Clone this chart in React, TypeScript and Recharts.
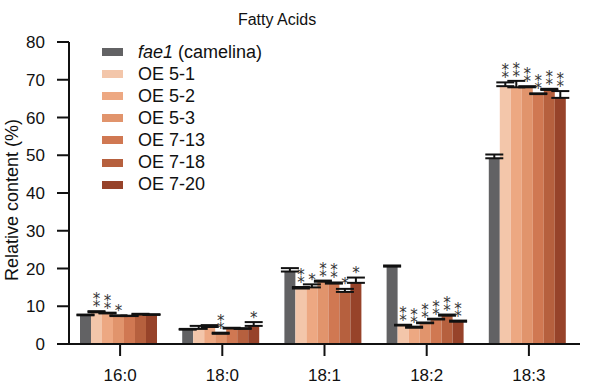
import React from 'react';
import { BarChart, Bar, XAxis, YAxis, ErrorBar, LabelList } from 'recharts';

if (typeof document !== 'undefined') document.body.style.margin = '0';

const FONT = '"Liberation Sans", Arial, sans-serif';
const STAR_FONT = '"DejaVu Sans", sans-serif';

const categories = ['16:0', '18:0', '18:1', '18:2', '18:3'];
const seriesNames = ['fae1 (camelina)', 'OE 5-1', 'OE 5-2', 'OE 5-3', 'OE 7-13', 'OE 7-18', 'OE 7-20'];
const seriesColors = ['#626264', '#f3c6aa', '#eda882', '#e1946c', '#d07852', '#b6603e', '#97432a'];

const fae1 = [7.6, 3.8, 19.2, 20.5, 49.2];
const oe51 = [8.4, 4.0, 14.7, 4.9, 68.3];
const oe52 = [8.1, 4.5, 15.0, 4.3, 68.0];
const oe53 = [7.4, 2.7, 16.5, 5.5, 68.0];
const oe713 = [7.4, 4.1, 16.0, 6.5, 66.2];
const oe718 = [7.8, 4.0, 13.8, 7.5, 67.3];
const oe720 = [7.7, 4.8, 16.2, 5.9, 65.2];

const fae1Err = [0.2, 0.2, 0.9, 0.3, 1.0];
const oe51Err = [0.3, 0.8, 0.4, 0.2, 1.0];
const oe52Err = [0.2, 0.5, 0.8, 0.3, 1.7];
const oe53Err = [0.2, 0.3, 0.3, 0.2, 0.3];
const oe713Err = [0.1, 0.2, 0.3, 0.2, 0.2];
const oe718Err = [0.2, 0.2, 0.8, 0.3, 0.3];
const oe720Err = [0.2, 1.0, 1.4, 0.3, 1.8];

// significance markers
const fae1Sig = ['', '', '', '', ''];
const oe51Sig = ['**', '', '**', '**', '**'];
const oe52Sig = ['**', '', '*', '**', '**'];
const oe53Sig = ['*', '**', '**', '**', '**'];
const oe713Sig = ['', '', '**', '**', '**'];
const oe718Sig = ['', '', '*', '**', '**'];
const oe720Sig = ['', '*', '*', '**', '**'];

const values = [fae1, oe51, oe52, oe53, oe713, oe718, oe720];
const errors = [fae1Err, oe51Err, oe52Err, oe53Err, oe713Err, oe718Err, oe720Err];
const sigs = [fae1Sig, oe51Sig, oe52Sig, oe53Sig, oe713Sig, oe718Sig, oe720Sig];

const data = categories.map((cat, i) => {
  const row: any = { cat };
  values.forEach((v, s) => {
    row['s' + s] = v[i];
    row['e' + s] = [0, errors[s][i]];
  });
  return row;
});

const makeStarLabel = (s: number) => (props: any) => {
  const { x, y, width, height, value, index } = props;
  const mark = sigs[s][index];
  if (!mark) return null;
  const err = errors[s][index];
  const pxPerUnit = Number(height) / Number(value);
  const capY = Number(y) - err * pxPerUnit;
  const cx = Number(x) + Number(width) / 2;
  if (mark === '**') {
    return (
      <text x={cx} y={capY - 4} textAnchor="middle" fontSize={15} fill="#333" stroke="none" fontFamily={STAR_FONT}>
        {'\u2051'}
      </text>
    );
  }
  return (
    <text x={cx} y={capY + 0.5} textAnchor="middle" fontSize={15} fill="#333" stroke="none" fontFamily={STAR_FONT}>
      *
    </text>
  );
};

const YLabel = () => (
  <text
    x={12}
    y={200}
    transform="rotate(-90 12 200)"
    textAnchor="middle"
    dominantBaseline="central"
    fontSize={18}
    fill="#111"
    fontFamily={FONT}
  >
    Relative content (%)
  </text>
);

export default function App() {
  return (
    <div style={{ position: 'relative', width: 600, height: 392, background: '#fff', fontFamily: FONT }}>
      <BarChart
        width={600}
        height={392}
        data={data}
        margin={{ top: 42, right: 20, bottom: 0, left: 0 }}
        barCategoryGap={11}
        barGap={0}
      >
        <XAxis
          dataKey="cat"
          height={48}
          tickSize={12}
          tickMargin={13}
          axisLine={{ stroke: '#111', strokeWidth: 2 }}
          tickLine={{ stroke: '#111', strokeWidth: 2 }}
          tick={{ fontSize: 17, fill: '#111', fontFamily: FONT }}
        />
        <YAxis
          width={69}
          domain={[0, 80]}
          ticks={[0, 10, 20, 30, 40, 50, 60, 70, 80]}
          tickSize={12}
          tickMargin={12}
          axisLine={{ stroke: '#111', strokeWidth: 2 }}
          tickLine={{ stroke: '#111', strokeWidth: 2 }}
          tick={{ fontSize: 17, fill: '#111', fontFamily: FONT }}
          label={<YLabel />}
        />
        {seriesNames.map((name, s) => (
          <Bar key={name} dataKey={'s' + s} name={name} fill={seriesColors[s]} isAnimationActive={false}>
            <ErrorBar dataKey={'e' + s} width={9} strokeWidth={2} stroke="#111" direction="y" isAnimationActive={false} />
            <LabelList dataKey={'s' + s} content={makeStarLabel(s)} />
          </Bar>
        ))}
      </BarChart>
      <div
        style={{
          position: 'absolute',
          top: 11,
          left: 0,
          width: 554,
          textAlign: 'center',
          fontSize: 16,
          color: '#111',
        }}
      >
        Fatty Acids
      </div>
      <div style={{ position: 'absolute', top: 41, left: 102, fontSize: 18, color: '#111' }}>
        {seriesNames.map((name, i) => (
          <div key={name} style={{ display: 'flex', alignItems: 'center', height: 22.1 }}>
            <div style={{ width: 21, height: 8, background: seriesColors[i], marginRight: 15 }} />
            {i === 0 ? (
              <span>
                <i>fae1</i> (camelina)
              </span>
            ) : (
              <span>{name}</span>
            )}
          </div>
        ))}
      </div>
    </div>
  );
}
